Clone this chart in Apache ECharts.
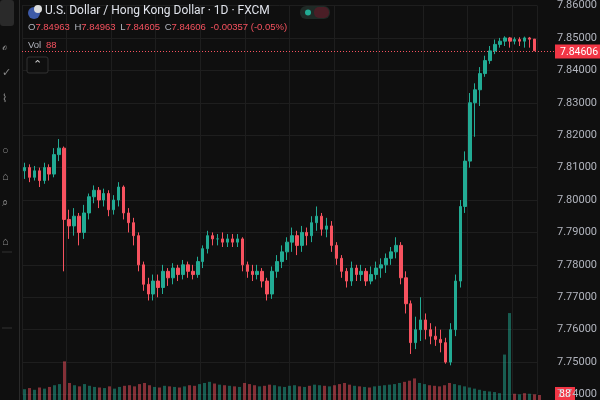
<!DOCTYPE html>
<html>
<head>
<meta charset="utf-8">
<script src="https://cdn.jsdelivr.net/npm/echarts@6/dist/echarts.min.js"></script>
<style>
  html, body { margin: 0; padding: 0; background: #0f0f0f; }
  #chart { width: 600px; height: 400px; }
</style>
</head>
<body>
<div id="chart"></div>
<script>
// closes, highs, lows (open = previous close)
const closes = [7.810,7.807,7.809,7.806,7.810,7.808,7.814,7.816,7.794,7.792,7.795,7.790,7.796,7.801,7.803,7.800,7.802,7.797,7.800,7.804,
  7.796,7.793,7.789,7.780,7.774,7.771,7.775,7.773,7.778,7.776,7.779,7.777,7.780,7.778,7.777,7.781,7.785,7.789,7.788,7.788,
  7.787,7.788,7.787,7.788,7.780,7.778,7.777,7.778,7.775,7.771,7.778,7.781,7.784,7.787,7.789,7.786,7.790,7.789,7.793,7.795,
  7.791,7.792,7.786,7.782,7.778,7.775,7.779,7.777,7.778,7.775,7.777,7.779,7.780,7.782,7.784,7.786,7.776,7.768,7.756,7.760,
  7.763,7.760,7.758,7.757,7.756,7.750,7.760,7.775,7.798,7.812,7.830,7.834,7.839,7.843,7.846,7.848,7.849,7.850,7.849,7.8495,
  7.849,7.850,7.8496,7.84606];
const highs = [7.8115,7.8110,7.8105,7.8100,7.8115,7.8110,7.8160,7.8188,7.8165,7.7970,7.7975,7.7960,7.7985,7.8020,7.8045,7.8040,7.8035,7.8030,7.8015,7.8055,
  7.8045,7.7975,7.7945,7.7900,7.7810,7.7760,7.7770,7.7770,7.7800,7.7790,7.7805,7.7800,7.7815,7.7810,7.7800,7.7825,7.7860,7.7905,7.7900,7.7895,
  7.7900,7.7895,7.7895,7.7895,7.7885,7.7810,7.7800,7.7800,7.7790,7.7760,7.7795,7.7830,7.7860,7.7885,7.7915,7.7905,7.7920,7.7915,7.7950,7.7980,
  7.7960,7.7945,7.7935,7.7870,7.7830,7.7790,7.7810,7.7800,7.7800,7.7790,7.7795,7.7810,7.7820,7.7835,7.7855,7.7885,7.7870,7.7780,7.7690,7.7640,
  7.7700,7.7650,7.7620,7.7610,7.7600,7.7575,7.7620,7.7770,7.8000,7.8150,7.8330,7.8360,7.8410,7.8445,7.8475,7.8495,7.8500,7.8505,7.8503,7.8502,
  7.8502,7.8504,7.8503,7.84963];
const lows = [7.8065,7.8055,7.8060,7.8040,7.8050,7.8060,7.8070,7.8120,7.7780,7.7880,7.7890,7.7860,7.7880,7.7940,7.7990,7.7975,7.7980,7.7950,7.7955,7.7980,
  7.7940,7.7900,7.7860,7.7780,7.7720,7.7690,7.7690,7.7700,7.7710,7.7735,7.7740,7.7750,7.7755,7.7760,7.7755,7.7760,7.7790,7.7835,7.7860,7.7860,
  7.7855,7.7855,7.7855,7.7855,7.7780,7.7760,7.7750,7.7755,7.7730,7.7690,7.7695,7.7760,7.7790,7.7815,7.7840,7.7830,7.7840,7.7860,7.7870,7.7905,
  7.7890,7.7885,7.7840,7.7800,7.7760,7.7730,7.7735,7.7750,7.7750,7.7735,7.7740,7.7755,7.7760,7.7775,7.7800,7.7820,7.7740,7.7650,7.7525,7.7540,
  7.7565,7.7570,7.7555,7.7550,7.7530,7.7495,7.7490,7.7580,7.7730,7.7960,7.8100,7.8195,7.8290,7.8380,7.8420,7.8450,7.8470,7.8475,7.8470,7.8480,
  7.8475,7.8470,7.8470,7.84605];
const firstOpen = 7.8090;
const lastOpen = 7.84963;
const volumes = [190,210,180,220,200,230,260,280,680,300,260,240,280,250,230,220,210,240,200,230,
  250,260,240,280,300,260,230,220,250,240,230,220,240,260,250,280,300,320,290,270,
  260,250,240,230,300,280,260,240,250,270,260,240,230,250,260,240,230,250,270,260,
  250,240,260,280,300,270,250,240,230,220,240,250,260,270,280,300,320,340,380,300,
  280,260,250,240,260,300,280,260,240,220,200,180,160,150,140,120,800,1530,110,100,
  120,110,100,88];
const priceTicks = [7.74, 7.86, 0.01]; // min, max, step

const cats = closes.map((_, i) => i);
const ohlc = closes.map((c, i) => {
  const o = i === closes.length - 1 ? lastOpen : (i === 0 ? firstOpen : closes[i - 1]);
  return [o, c, lows[i], highs[i]];
});
const UP = '#22ab94', DOWN = '#f7525f';
const volData = volumes.map((v, i) => ({
  value: v,
  itemStyle: { color: ohlc[i][1] >= ohlc[i][0] ? 'rgba(34,171,148,0.5)' : 'rgba(247,82,95,0.5)' }
}));

const chart = echarts.init(document.getElementById('chart'));
chart.setOption({
  backgroundColor: '#0f0f0f',
  animation: false,
  grid: [
    { left: 22, right: 58, top: 3, height: 433 },
    { left: 22, right: 58, top: 300, height: 100 }
  ],
  xAxis: [
    { type: 'category', data: cats, gridIndex: 0, boundaryGap: true,
      axisLine: { show: false }, axisTick: { show: false }, axisLabel: { show: false },
      splitLine: { show: true, interval: 8, lineStyle: { color: '#1e1e1e' } } },
    { type: 'category', data: cats, gridIndex: 1, show: false }
  ],
  yAxis: [
    { type: 'value', gridIndex: 0, position: 'right', scale: true,
      min: priceTicks[0], max: priceTicks[1], interval: priceTicks[2],
      axisLine: { show: false }, axisTick: { show: false },
      axisLabel: { color: '#b2b5be', fontSize: 11, fontFamily: 'Roboto', margin: 20,
        formatter: v => v.toFixed(5) },
      splitLine: { lineStyle: { color: '#1e1e1e' } } },
    { type: 'value', gridIndex: 1, max: 1760, show: false, splitLine: { show: false } }
  ],
  series: [
    { type: 'candlestick', data: ohlc, xAxisIndex: 0, yAxisIndex: 0, barWidth: 3,
      itemStyle: { color: UP, color0: DOWN, borderColor: UP, borderColor0: DOWN } },
    { type: 'bar', data: volData, xAxisIndex: 1, yAxisIndex: 1, barWidth: 3 }
  ]
});

const lastY = Math.round(chart.convertToPixel({ yAxisIndex: 0 }, closes[closes.length - 1])) + 0.5;
const red = '#f23645';
chart.setOption({
  graphic: [
    { type: 'line', shape: { x1: 22, y1: lastY, x2: 555, y2: lastY }, style: { stroke: DOWN, lineDash: [1, 2], lineWidth: 1 } },
    { type: 'rect', shape: { x: 0, y: 0, width: 19, height: 400 }, style: { fill: '#0f0f0f' } },
    { type: 'line', shape: { x1: 19.5, y1: 0, x2: 19.5, y2: 400 }, style: { stroke: '#2a2a2a', lineWidth: 1 } },
    { type: 'rect', shape: { x: 0, y: 0, width: 14, height: 26, r: 3 }, style: { fill: '#2a2a2a' } },
    { type: 'text', x: 2, y: 40, style: { text: 'ℴ\n\n✓\n\n⌇\n\n\n\n○\n\n⌂\n\n⌕\n\n\n⌂', fill: '#888', fontSize: 11, lineHeight: 13 } },
    { type: 'line', shape: { x1: 2, y1: 252, x2: 12, y2: 252 }, style: { stroke: '#333' } },
    { type: 'line', shape: { x1: 2, y1: 328, x2: 12, y2: 328 }, style: { stroke: '#333' } },
    { type: 'circle', shape: { cx: 34, cy: 13, r: 6 }, style: { fill: '#3d5aa8' } },
    { type: 'circle', shape: { cx: 38, cy: 9, r: 4 }, style: { fill: '#ddd' } },
    { type: 'text', x: 45, y: 5, style: { text: 'U.S. Dollar / Hong Kong Dollar · 1D · FXCM', fill: '#e0e3eb',
      fontSize: 12, fontFamily: 'Roboto' } },
    { type: 'rect', shape: { x: 300, y: 6, width: 30, height: 13, r: 6 }, style: { fill: '#1f2a26' } },
    { type: 'circle', shape: { cx: 308, cy: 12.5, r: 3 }, style: { fill: '#22ab94' } },
    { type: 'rect', shape: { x: 314, y: 7, width: 15, height: 11, r: 5 }, style: { fill: '#4a1e26' } },
    { type: 'text', x: 28, y: 22, style: { fontSize: 9.5, fontFamily: 'Roboto',
      text: '{l|O}{v|7.84963}  {l|H}{v|7.84963}  {l|L}{v|7.84605}  {l|C}{v|7.84606}  {v|-0.00357 (-0.05%)}',
      rich: { l: { fill: '#b2b5be', fontSize: 9.5 }, v: { fill: '#f7525f', fontSize: 9.5 } } } },
    { type: 'text', x: 28, y: 40, style: { fontSize: 9.5, fontFamily: 'Roboto',
      text: '{l|Vol}  {v|88}', rich: { l: { fill: '#b2b5be', fontSize: 9.5 }, v: { fill: '#f7525f', fontSize: 9.5 } } } },
    { type: 'rect', shape: { x: 27, y: 57, width: 21, height: 16, r: 2 }, style: { fill: '#0f0f0f', stroke: '#333' } },
    { type: 'text', x: 33, y: 59, style: { text: '⌃', fill: '#ccc', fontSize: 11 } },
    { type: 'rect', shape: { x: 555, y: lastY - 7, width: 45, height: 14 }, style: { fill: red } },
    { type: 'text', x: 560, y: lastY - 5, style: { text: closes[closes.length - 1].toFixed(5), fill: '#fff',
      fontSize: 10.5, fontFamily: 'Roboto' } },
    { type: 'rect', shape: { x: 555, y: 387, width: 20, height: 13 }, style: { fill: red } },
    { type: 'text', x: 559, y: 389, style: { text: String(volumes[volumes.length - 1]), fill: '#fff', fontSize: 10.5, fontFamily: 'Roboto' } }
  ]
});
</script>
</body>
</html>
